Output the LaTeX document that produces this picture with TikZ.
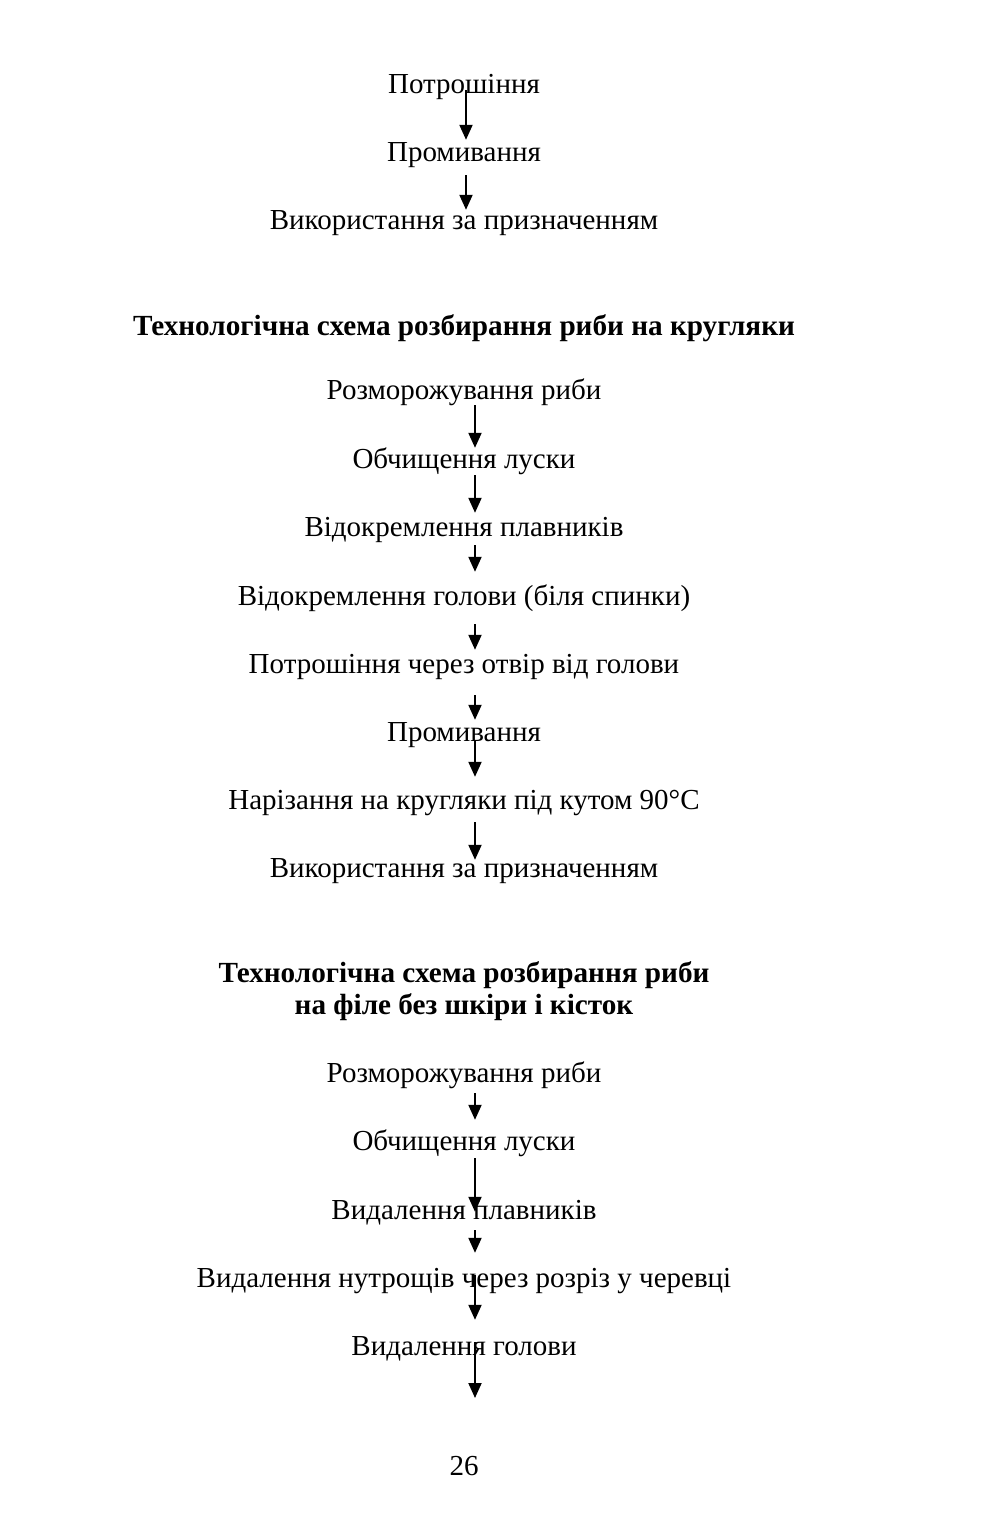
\documentclass[tikz,border=0pt]{standalone}
\usepackage{fontspec}
\setmainfont{Liberation Serif}
\usetikzlibrary{arrows.meta,calc}
\tikzset{
  txt/.style={inner sep=0pt, anchor=base, text height=22pt, text depth=7pt, font=\fontsize{29}{34}\selectfont},
  ttl/.style={txt, font=\fontsize{29.2}{34}\selectfont\bfseries},
  arr/.style={line width=2pt, -{Triangle[length=15pt,width=13pt]}}
}
\begin{document}
\begin{tikzpicture}[x=1pt,y=-1pt]
\useasboundingbox[fill=white] (0,0) rectangle (999,1537);
\coordinate (ca) at (466,0);
\coordinate (cb) at (475,0);
% section 1
\node[txt] (p1) at (464,93) {Потрошіння};
\node[txt] (p2) at (464,161) {Промивання};
\node[txt] (p3) at (464,229) {Використання за призначенням};
\draw[arr] ($(p1.south -| ca)+(0,-10)$) -- ($(p2.north -| ca)+(0,1)$);
\draw[arr] ($(p2.south -| ca)+(0,7)$) -- ($(p3.north -| ca)+(0,3)$);
% section 2
\node[ttl] (t1) at (464,335) {Технологічна схема розбирання риби на кругляки};
\node[txt] (r1) at (464,399) {Розморожування риби};
\node[txt] (r2) at (464,468) {Обчищення луски};
\node[txt] (r3) at (464,536) {Відокремлення плавників};
\node[txt] (r4) at (464,605) {Відокремлення голови (біля спинки)};
\node[txt] (r5) at (464,673) {Потрошіння через отвір від голови};
\node[txt] (r6) at (464,741) {Промивання};
\node[txt] (r7) at (464,809) {Нарізання на кругляки під кутом 90°C};
\node[txt] (r8) at (464,877) {Використання за призначенням};
\draw[arr] ($(r1.south -| cb)+(0,-1)$) -- ($(r2.north -| cb)+(0,2)$);
\draw[arr] ($(r2.south -| cb)+(0,0)$) -- ($(r3.north -| cb)+(0,-1)$);
\draw[arr] ($(r3.south -| cb)+(0,2)$) -- ($(r4.north -| cb)+(0,-11)$);
\draw[arr] ($(r4.south -| cb)+(0,12)$) -- ($(r5.north -| cb)+(0,-1)$);
\draw[arr] ($(r5.south -| cb)+(0,15)$) -- ($(r6.north -| cb)+(0,1)$);
\draw[arr] ($(r6.south -| cb)+(0,-8)$) -- ($(r7.north -| cb)+(0,-10)$);
\draw[arr] ($(r7.south -| cb)+(0,6)$) -- ($(r8.north -| cb)+(0,5)$);
% section 3
\node[ttl] (t2) at (464,982) {Технологічна схема розбирання риби};
\node[ttl] (t3) at (464,1014) {на філе без шкіри і кісток};
\node[txt] (f1) at (464,1082) {Розморожування риби};
\node[txt] (f2) at (464,1150) {Обчищення луски};
\node[txt] (f3) at (464,1219) {Видалення плавників};
\node[txt] (f4) at (464,1287) {Видалення нутрощів через розріз у черевці};
\node[txt] (f5) at (464,1355) {Видалення голови};
\coordinate (fend) at (475,1398);
\draw[arr] ($(f1.south -| cb)+(0,4)$) -- ($(f2.north -| cb)+(0,-8)$);
\draw[arr] ($(f2.south -| cb)+(0,1)$) -- ($(f3.north -| cb)+(0,15)$);
\draw[arr] ($(f3.south -| cb)+(0,4)$) -- ($(f4.north -| cb)+(0,-12)$);
\draw[arr] ($(f4.south -| cb)+(0,-19)$) -- ($(f5.north -| cb)+(0,-13)$);
\draw[arr] ($(f5.south -| cb)+(0,-20)$) -- (fend);
% page number
\node[txt] (pg) at (464,1475) {26};
\end{tikzpicture}
\end{document}
